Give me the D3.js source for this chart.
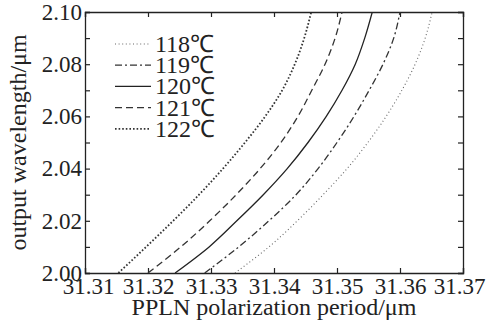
<!DOCTYPE html>
<meta charset="utf-8">
<script src="https://cdn.jsdelivr.net/npm/d3@7"></script>
<style>
  body { margin: 0; background: #fff; }
  text { font-family: "Liberation Serif", "Times New Roman", serif; fill: #222; }
</style>
<svg></svg>
<script>
    var width = 488, height = 325;
    var margin = { top: 12, right: 25, bottom: 52, left: 85 };

    // output wavelength (um), shared by all curves
    var wavelength = [2.00, 2.01, 2.02, 2.03, 2.04, 2.05, 2.06, 2.07, 2.08, 2.09, 2.10];
    var period118 = [31.3338, 31.3392, 31.3437, 31.3478, 31.3516, 31.3549, 31.3578, 31.3603, 31.3624, 31.3640, 31.3651];
    var period119 = [31.3290, 31.3344, 31.3392, 31.3435, 31.3470, 31.3500, 31.3527, 31.3551, 31.3573, 31.3590, 31.3600];
    var period120 = [31.3243, 31.3297, 31.3341, 31.3383, 31.3421, 31.3454, 31.3483, 31.3508, 31.3529, 31.3544, 31.3556];
    var period121 = [31.3200, 31.3252, 31.3298, 31.3340, 31.3378, 31.3411, 31.3438, 31.3460, 31.3481, 31.3497, 31.3508];
    var period122 = [31.3153, 31.3197, 31.3240, 31.3281, 31.3319, 31.3354, 31.3386, 31.3413, 31.3433, 31.3448, 31.3459];
    var labels = ['118℃', '119℃', '120℃', '121℃', '122℃'];
    var xTicks = [31.31, 31.32, 31.33, 31.34, 31.35, 31.36, 31.37];
    var yTicks = [2.00, 2.01, 2.02, 2.03, 2.04, 2.05, 2.06, 2.07, 2.08, 2.09, 2.10];
    var yLabels = [2.00, 2.02, 2.04, 2.06, 2.08, 2.10];

    var series = [period118, period119, period120, period121, period122];
    var styles = [
        { dash: '1,2.6', w: 1.1, c: '#666' },
        { dash: '7,3,2,3', w: 1.3, c: '#333' },
        { dash: null, w: 1.3, c: '#222' },
        { dash: '7,4', w: 1.3, c: '#333' },
        { dash: '1.6,2', w: 1.8, c: '#333' }
    ];
    var serif = '"Liberation Serif", "Times New Roman", serif';

    var svg = d3.select('svg').attr('width', width).attr('height', height);
    var x = d3.scaleLinear().domain([31.31, 31.37]).range([margin.left, width - margin.right]);
    var y = d3.scaleLinear().domain([2.00, 2.10]).range([height - margin.bottom, margin.top]);

    var tl = 5;
    var gx = svg.append('g').attr('transform', `translate(0,${y(2.00)})`)
        .call(d3.axisBottom(x).tickValues(xTicks).tickSize(-tl).tickPadding(5).tickFormat(d3.format('.2f')));
    svg.append('g').attr('transform', `translate(0,${y(2.10)})`)
        .call(d3.axisTop(x).tickValues(xTicks).tickSize(-tl).tickFormat(''));
    var gy = svg.append('g').attr('transform', `translate(${x(31.31)},0)`)
        .call(d3.axisLeft(y).tickValues(yTicks).tickSize(-tl).tickPadding(3)
            .tickFormat(d => yLabels.some(v => Math.abs(v - d) < 1e-9) ? d3.format('.2f')(d) : ''));
    svg.append('g').attr('transform', `translate(${x(31.37)},0)`)
        .call(d3.axisRight(y).tickValues(yTicks).tickSize(-tl).tickFormat(''));

    svg.selectAll('.domain').attr('stroke', '#222').attr('stroke-width', 1.3);
    svg.selectAll('.tick line').attr('stroke', '#222').attr('stroke-width', 1.2);
    [gx, gy].forEach(g => g.attr('font-family', serif).attr('font-size', 23));
    svg.selectAll('.tick text').style('font-family', serif).style('font-size', '23px').attr('fill', '#222');
    // last x label sits a little left so it stays inside the picture
    gx.selectAll('.tick text').filter(d => d === 31.37).attr('dx', -4);
    gx.selectAll('.tick text').filter(d => d === 31.31).attr('dx', 3);

    var line = d3.line()
        .x(d => x(d[0]))
        .y(d => y(d[1]))
        .curve(d3.curveMonotoneY);

    svg.append('defs').append('clipPath').attr('id', 'clip')
        .append('rect').attr('x', x(31.31)).attr('y', y(2.10))
        .attr('width', x(31.37) - x(31.31)).attr('height', y(2.00) - y(2.10));

    svg.append('g').attr('clip-path', 'url(#clip)')
        .selectAll('path').data(series).enter().append('path')
        .attr('d', s => line(s.map((p, i) => [p, wavelength[i]])))
        .attr('fill', 'none')
        .attr('stroke', (d, i) => styles[i].c)
        .attr('stroke-width', (d, i) => styles[i].w)
        .attr('stroke-dasharray', (d, i) => styles[i].dash);

    // legend
    var leg = svg.append('g').attr('transform', 'translate(115,44)');
    var rowH = 21.2;
    leg.selectAll('line').data(labels).enter().append('line')
        .attr('x1', 0).attr('x2', 36)
        .attr('y1', (d, i) => i * rowH).attr('y2', (d, i) => i * rowH)
        .attr('stroke', (d, i) => styles[i].c)
        .attr('stroke-width', (d, i) => styles[i].w)
        .attr('stroke-dasharray', (d, i) => styles[i].dash);
    leg.selectAll('text').data(labels).enter().append('text')
        .attr('x', 40).attr('y', (d, i) => i * rowH + 8)
        .style('font-size', '24px')
        .text(d => d);

    svg.append('text')
        .attr('x', (x(31.31) + x(31.37)) / 2).attr('y', 315)
        .attr('text-anchor', 'middle').style('font-size', '24px')
        .text('PPLN polarization period/μm');
    svg.append('text')
        .attr('transform', `translate(26,${(y(2.00) + y(2.10)) / 2}) rotate(-90)`)
        .attr('text-anchor', 'middle').style('font-size', '24px')
        .text('output wavelength/μm');
</script>
